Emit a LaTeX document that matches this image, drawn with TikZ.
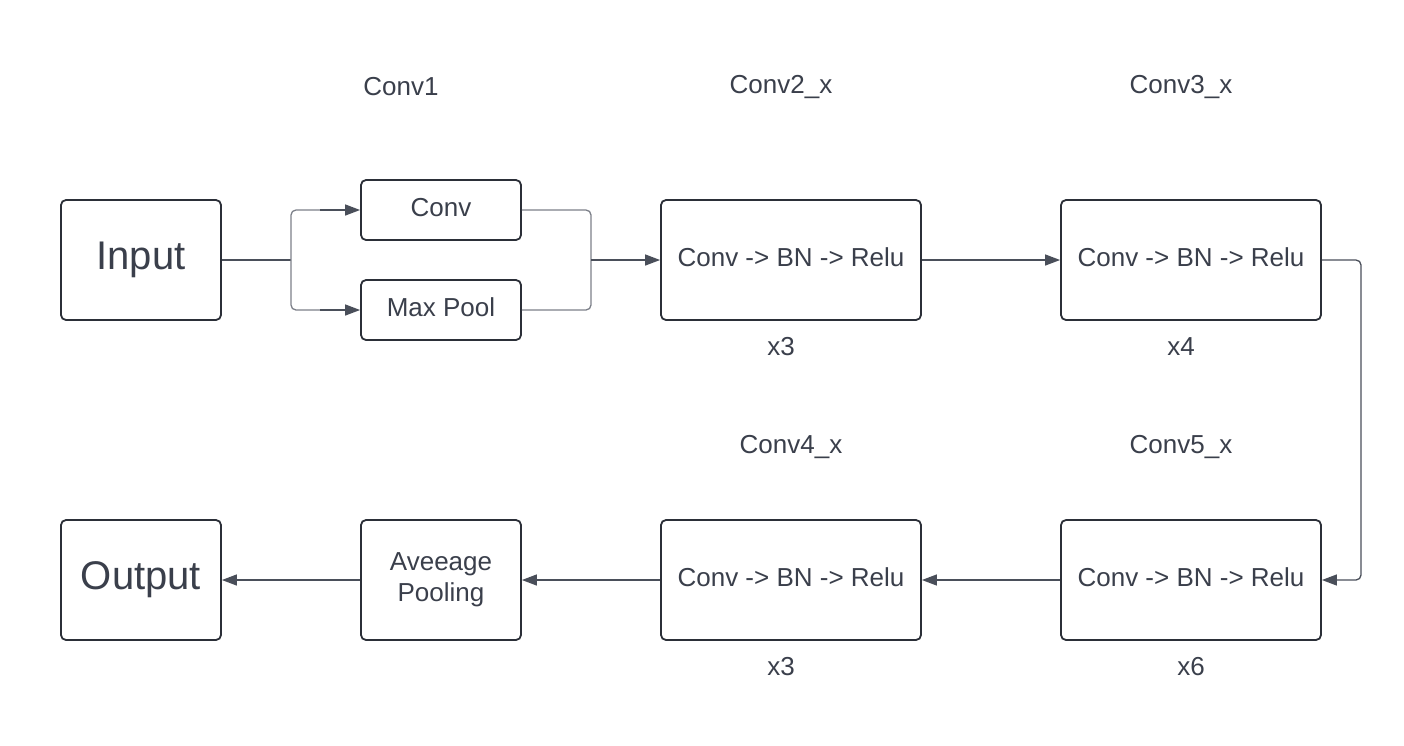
\documentclass[tikz,border=0pt]{standalone}
\usepackage{fontspec}
\setmainfont{Liberation Sans}
\usetikzlibrary{arrows.meta}
\definecolor{boxC}{HTML}{2B2F38}
\definecolor{txtC}{HTML}{3A3F4B}
\definecolor{lineC}{HTML}{4A4F5A}
\definecolor{splitC}{HTML}{7C8089}
\tikzset{
  blk/.style={draw=boxC, line width=1.8pt, rounded corners=5pt, text=txtC, align=center, inner sep=0pt},
  big/.style={blk, minimum width=160pt, minimum height=120pt, font=\fontsize{40}{44}\selectfont},
  small/.style={blk, minimum width=160pt, minimum height=60pt, font=\fontsize{26}{31}\selectfont, text depth=5pt},
  wide/.style={blk, minimum width=260pt, minimum height=120pt, font=\fontsize{26}{31}\selectfont, text depth=5pt},
  sq/.style={blk, minimum width=160pt, minimum height=120pt, font=\fontsize{26}{31}\selectfont},
  lbl/.style={text=txtC, font=\fontsize{26}{31}\selectfont, inner sep=0pt},
  conn/.style={draw=lineC, line width=1.3pt, -{Triangle[length=15pt,width=11pt]}},
  splitln/.style={draw=splitC, line width=1.3pt, rounded corners=5pt},
}
\begin{document}
\begin{tikzpicture}[x=1pt,y=-1pt]
\useasboundingbox (0,0) rectangle (1404,745);
\node[big] (input) at (141,260) {Input};
\node[small] (conv) at (441,210) {Conv};
\node[small] (pool) at (441,310) {Max Pool};
\node[wide] (c2) at (791,260) {Conv -> BN -> Relu};
\node[wide] (c3) at (1191,260) {Conv -> BN -> Relu};
\node[big] (output) at (141,580) {Output};
\node[sq] (avg) at (441,580) {Aveeage\\Pooling};
\node[wide] (c4) at (791,580) {Conv -> BN -> Relu};
\node[wide] (c5) at (1191,580) {Conv -> BN -> Relu};

\node[lbl] (l1) at (401,87) {Conv1};
\node[lbl] (l2) at (781,87) {Conv2\_x};
\node[lbl] (l3) at (1181,87) {Conv3\_x};
\node[lbl] (l4) at (791,447) {Conv4\_x};
\node[lbl] (l5) at (1181,447) {Conv5\_x};
\node[lbl] (r2) at (781,347) {x3};
\node[lbl] (r3) at (1181,347) {x4};
\node[lbl] (r4) at (781,667) {x3};
\node[lbl] (r5) at (1191,667) {x6};

\coordinate (sp) at (291,260);
\coordinate (jn) at (591,260);
\coordinate (ct) at (330,210);
\coordinate (pt) at (330,310);
\coordinate (turn) at (1361,260);
\draw[draw=lineC, line width=1.3pt] (input.east) -- (sp);
\draw[splitln] (sp) |- (ct);
\draw[splitln] (sp) |- (pt);
\draw[conn] (320,210) -- (conv.west);
\draw[conn] (320,310) -- (pool.west);
\draw[splitln] (conv.east) -| (jn);
\draw[splitln] (pool.east) -| (jn);
\draw[conn] (jn) -- (c2.west);
\draw[conn] (c2.east) -- (c3.west);
\draw[conn, rounded corners=5pt] (c3.east) -- (turn) |- (c5.east);
\draw[conn] (c5.west) -- (c4.east);
\draw[conn] (c4.west) -- (avg.east);
\draw[conn] (avg.west) -- (output.east);
\end{tikzpicture}
\end{document}
